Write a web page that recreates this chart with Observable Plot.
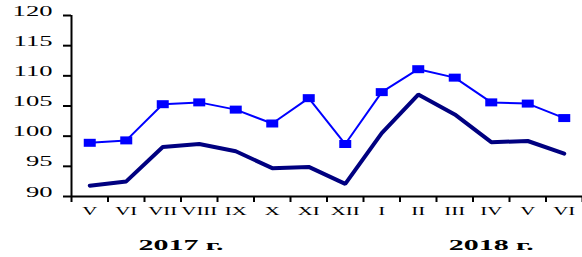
<!DOCTYPE html>
<html><head><meta charset="utf-8">
<script src="https://cdn.jsdelivr.net/npm/d3@7"></script>
<script src="https://cdn.jsdelivr.net/npm/@observablehq/plot@0.6"></script>
<style>body{margin:0;background:#fff}</style>
</head><body><div id="chart"></div>
<script>
const months = ["V","VI","VII","VIII","IX","X","XI","XII","I","II","III","IV","V","VI"];
const seriesBlue = [98.9,99.3,105.3,105.6,104.4,102.1,106.3,98.7,107.3,111.1,109.7,105.6,105.4,103.0];
const seriesNavy = [91.8,92.5,98.2,98.7,97.5,94.7,94.9,92.1,100.5,106.9,103.6,99.0,99.2,97.1];
const yTicks = [90,95,100,105,110,115,120];
const years = ["2017 г.","2018 г."];
const yearAt = [2.5, 11];

const blue = months.map((m,i)=>({i, v: seriesBlue[i]}));
const navy = months.map((m,i)=>({i, v: seriesNavy[i]}));
const boundaries = months.map((_,i)=>i-0.5).concat([months.length-0.5]);
const rectSymbol = {draw(ctx){ ctx.moveTo(-6,-4); ctx.lineTo(6,-4); ctx.lineTo(6,4); ctx.lineTo(-6,4); ctx.closePath(); }};

const chart = Plot.plot({
  width: 582, height: 257,
  marginLeft: 71, marginRight: 0, marginTop: 15, marginBottom: 61,
  style: {fontFamily: "'Liberation Serif', serif", color: "black", background: "white", overflow: "visible"},
  x: {type: "linear", domain: [-0.5, months.length-0.5], label: null},
  y: {domain: [90,120], label: null},
  marks: [
    Plot.line(navy, {x:"i", y:"v", stroke:"#000080", strokeWidth:4, strokeLinejoin:"miter"}),
    Plot.line(blue, {x:"i", y:"v", stroke:"#0000ff", strokeWidth:2}),
    Plot.dot(blue, {x:"i", y:"v", symbol: rectSymbol, fill:"#0000ff", stroke:"none"}),
    Plot.ruleY([90], {stroke:"black", strokeWidth:2}),
    Plot.ruleX([-0.5], {stroke:"black", strokeWidth:2}),
    Plot.axisY({ticks: yTicks, tickSize: 8, tickPadding: 11, strokeWidth: 2, fontSize: 14, label: null}),
    Plot.axisX({ticks: boundaries, tickSize: 6, tickFormat: () => "", strokeWidth: 2, label: null}),
    Plot.axisX({ticks: months.map((_,i)=>i), tickSize: 0, tickPadding: 18, tickFormat: i => months[i], fontSize: 13, label: null}),
    Plot.text(years, {x: (d,i)=>yearAt[i], frameAnchor: "bottom", dy: 53, fontWeight: "bold", fontSize: 15})
  ]
});
document.getElementById("chart").appendChild(chart);

function stretch(sel, s){
  sel.each(function(){
    const t = d3.select(this);
    const x = +t.attr("x") || 0, y = +t.attr("y") || 0;
    const tr = t.attr("transform") || "";
    t.attr("x", null).attr("y", null).attr("transform", `${tr} translate(${x},${y}) scale(${s},1)`);
  });
}
const svg = d3.select(chart);
stretch(svg.selectAll('g[aria-label="y-axis tick label"] text'), 1.9);
stretch(svg.selectAll('g[aria-label="x-axis tick label"] text'), 1.6);
stretch(svg.selectAll('text').filter(function(){ return years.includes(this.textContent); }), 2.0);
</script>
</body></html>
